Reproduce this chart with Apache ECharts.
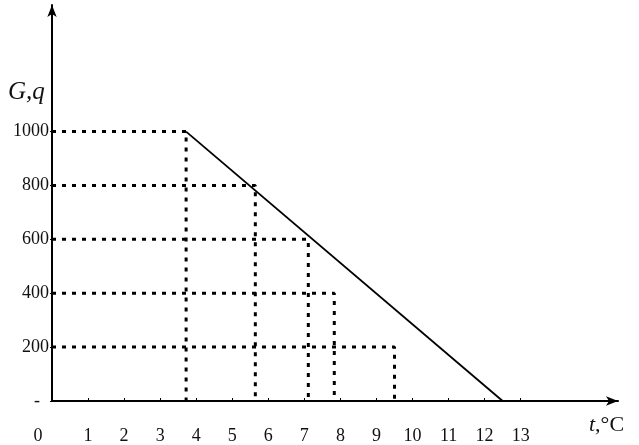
<!DOCTYPE html>
<html>
<head>
<meta charset="utf-8">
<script src="https://cdn.jsdelivr.net/npm/echarts@6/dist/echarts.min.js"></script>
<style>
    html, body { margin: 0; padding: 0; background: #fff; }
    #chart { width: 639px; height: 445px; }
</style>
</head>
<body>
<div id="chart"></div>
<script>
// levels of G,q and the temperature where each dotted guide drops to the axis
var levels = [1000, 800, 600, 400, 200];
var guideTemps = [3.72, 5.64, 7.11, 7.83, 9.5];
// the solid falling line
var lineTemps = [3.72, 12.5];
var lineValues = [1000, 0];
var xTicks = [0, 1, 2, 3, 4, 5, 6, 7, 8, 9, 10, 11, 12, 13];
var yTicks = [0, 200, 400, 600, 800, 1000];

var serif = '"Liberation Serif", "DejaVu Serif", serif';

var series = [];
// dotted guides: from the y axis across, then down to the x axis
levels.forEach(function(g, i) {
    var t = guideTemps[i];
    series.push({
        type: 'line',
        data: [[0, g], [t, g], [t, 0]],
        symbol: 'none',
        silent: true,
        lineStyle: { color: '#000', width: 3, type: [4, 6] }
    });
});
series.push({
    type: 'line',
    data: [[lineTemps[0], lineValues[0]], [lineTemps[1], lineValues[1]]],
    symbol: 'none',
    silent: true,
    lineStyle: { color: '#000', width: 1.8 }
});

var chart = echarts.init(document.getElementById('chart'));
chart.setOption({
    backgroundColor: '#fff',
    animation: false,
    grid: { left: 52, right: 21, top: 5, bottom: 43 },
    xAxis: {
        type: 'value',
        min: 0,
        max: 15.7,
        interval: 1,
        splitLine: { show: false },
        axisLine: {
            lineStyle: { color: '#000', width: 2 },
            symbol: ['none', 'arrow'],
            symbolSize: [7, 12]
        },
        axisTick: { inside: true, length: 3, lineStyle: { color: '#000' }, customValues: xTicks },
        axisLabel: {
            customValues: xTicks,
            margin: 26,
            color: '#111',
            fontFamily: serif,
            fontSize: 18,
            formatter: function(v) {
                return v === 0 ? '{z|0}' : String(v);
            },
            rich: {
                z: { fontFamily: serif, fontSize: 18, color: '#111', padding: [0, 28, 0, 0] }
            }
        }
    },
    yAxis: {
        type: 'value',
        min: 0,
        max: 1470,
        interval: 200,
        splitLine: { show: false },
        axisLine: {
            lineStyle: { color: '#000', width: 2 },
            symbol: ['none', 'arrow'],
            symbolSize: [7, 12]
        },
        axisTick: { length: 2, lineStyle: { color: '#000' }, customValues: yTicks },
        axisLabel: {
            customValues: yTicks,
            margin: 3,
            color: '#111',
            fontFamily: serif,
            fontSize: 18,
            formatter: function(v) {
                return v === 0 ? '-  ' : String(v);
            }
        }
    },
    graphic: [{
        type: 'text',
        left: 8,
        top: 80,
        style: {
            text: 'G,q',
            font: 'italic 25px ' + serif,
            fill: '#111'
        }
    }, {
        type: 'text',
        left: 589,
        top: 414,
        style: {
            text: '{i|t},°C',
            fill: '#111',
            rich: {
                i: { font: 'italic 22px ' + serif, fill: '#111' }
            },
            font: '22px ' + serif
        }
    }],
    series: series
});
</script>
</body>
</html>
